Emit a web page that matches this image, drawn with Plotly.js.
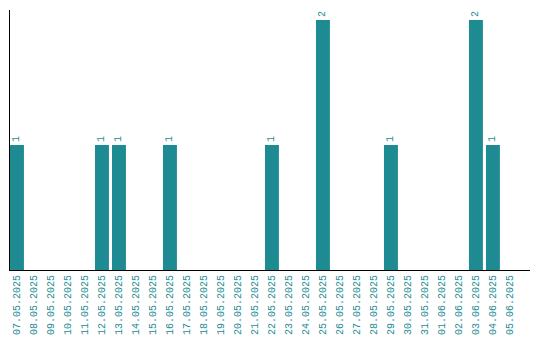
<!DOCTYPE html>
<html><head><meta charset="utf-8">
<script src="https://cdn.plot.ly/plotly-3.0.1.min.js"></script>
<style>html,body{margin:0;padding:0;background:#fff}#c{width:540px;height:340px}</style>
</head><body><div id="c"></div>
<script>
const dates = ["07.05.2025","08.05.2025","09.05.2025","10.05.2025","11.05.2025","12.05.2025","13.05.2025","14.05.2025","15.05.2025","16.05.2025","17.05.2025","18.05.2025","19.05.2025","20.05.2025","21.05.2025","22.05.2025","23.05.2025","24.05.2025","25.05.2025","26.05.2025","27.05.2025","28.05.2025","29.05.2025","30.05.2025","31.05.2025","01.06.2025","02.06.2025","03.06.2025","04.06.2025","05.06.2025"];
const counts = [1,0,0,0,0,1,1,0,0,1,0,0,0,0,0,1,0,0,2,0,0,0,1,0,0,0,0,2,1,0];
const labels = counts.map(v => v > 0 ? String(v) : "");
const teal = "#1e8b93";
Plotly.newPlot("c", [{
  type: "bar", x: dates, y: counts, text: labels,
  textposition: "outside", textangle: -90, cliponaxis: false,
  textfont: {family: "Liberation Mono", size: 10, color: teal},
  marker: {color: teal}, width: 0.82, hoverinfo: "none"
}], {
  width: 540, height: 340, showlegend: false,
  margin: {l: 10, r: 10, t: 10, b: 70},
  paper_bgcolor: "#fff", plot_bgcolor: "#fff",
  xaxis: {type: "category", range: [-0.41, 30.18], showline: true, linecolor: "#000", linewidth: 1,
    showgrid: false, zeroline: false, ticks: "", tickangle: -90,
    tickfont: {family: "Liberation Mono", size: 10, color: teal}},
  yaxis: {range: [0, 2.08], showline: true, linecolor: "#000", linewidth: 1, showgrid: false,
    zeroline: false, showticklabels: false, ticks: ""}
}, {staticPlot: true});
</script></body></html>
